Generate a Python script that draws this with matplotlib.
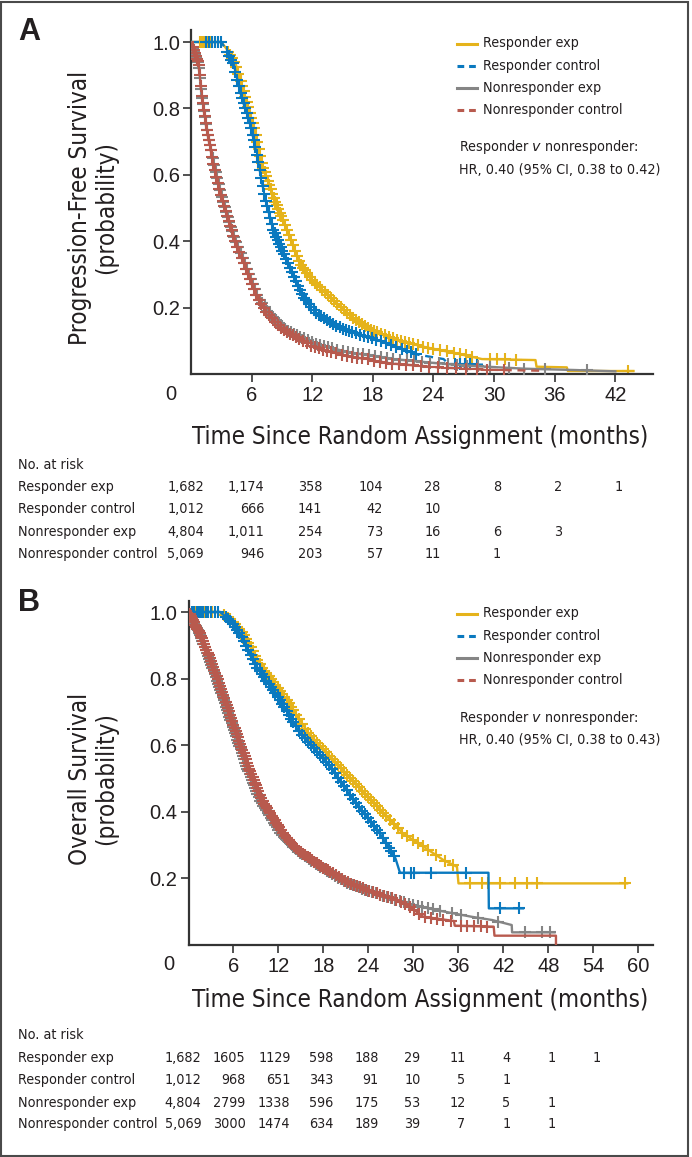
import matplotlib
matplotlib.use("Agg")
import matplotlib.pyplot as plt
from matplotlib import font_manager, transforms
from matplotlib.lines import Line2D
from matplotlib.patches import Rectangle
import numpy as np

# ---------------- data ----------------
labels = ["Responder exp", "Responder control", "Nonresponder exp", "Nonresponder control"]
colors = ["#E5B31B", "#0A79BF", "#858585", "#B85A4E"]

# Panel A: progression-free survival curves (months, probability)
pfs_resp_exp_t = [0, 3.0, 3.5, 4.4, 5.35, 6.3, 7.0, 8.15, 9.5, 10.8, 12.2, 13.8, 15.4, 17.7, 20.4, 23.0, 26.3, 28.8, 34.1, 34.2, 37.2, 37.3, 43.8]
pfs_resp_exp_s = [1.0, 1.0, 0.98, 0.936, 0.835, 0.735, 0.635, 0.534, 0.434, 0.333, 0.275, 0.233, 0.183, 0.133, 0.103, 0.082, 0.062, 0.045, 0.042, 0.022, 0.02, 0.009, 0.009]
pfs_resp_ctrl_t = [0, 3.0, 3.4, 4.2, 5.0, 6.0, 6.67, 7.3, 8.15, 9.6, 11.1, 12.4, 15.1, 18.7, 21.0, 22.5, 25.0, 25.5, 28.9]
pfs_resp_ctrl_s = [1.0, 1.0, 0.98, 0.936, 0.835, 0.735, 0.635, 0.534, 0.434, 0.333, 0.233, 0.183, 0.133, 0.10, 0.075, 0.058, 0.045, 0.03, 0.028]
pfs_non_exp_t = [0, 0.3, 0.75, 1.08, 1.6, 2.25, 3.05, 4.05, 5.3, 6.6, 7.7, 9.4, 12.4, 15.5, 20.0, 24.5, 28.0, 33.0, 38.0, 42.0]
pfs_non_exp_s = [1.0, 0.97, 0.936, 0.835, 0.735, 0.635, 0.534, 0.434, 0.333, 0.233, 0.183, 0.133, 0.09, 0.066, 0.045, 0.032, 0.024, 0.016, 0.012, 0.008]
pfs_non_ctrl_t = [0, 0.3, 0.73, 1.06, 1.55, 2.2, 3.0, 4.0, 5.2, 6.5, 7.5, 9.1, 12.1, 15.0, 19.7, 24.5, 29.0, 34.5]
pfs_non_ctrl_s = [1.0, 0.97, 0.936, 0.835, 0.735, 0.635, 0.534, 0.434, 0.333, 0.233, 0.183, 0.133, 0.082, 0.057, 0.032, 0.02, 0.013, 0.01]

# censor marks (months)
pfs_resp_exp_cens = [0.9, 1.1, 1.3, 1.5, 1.7, 2.0, 2.4, 3.7, 3.9, 4.1, 4.3, 4.5, 4.7, 4.9, 5.05, 5.2, 5.35, 5.5,
                     5.65, 5.8, 5.95, 6.1, 6.25, 6.4, 6.55, 6.7, 6.85, 7.0, 7.15, 7.3, 7.45, 7.6, 7.75, 7.9,
                     8.05, 8.2, 8.35, 8.5, 8.65, 8.8, 8.95, 9.1, 9.3, 9.5, 9.7, 9.9, 10.1, 10.3, 10.5, 10.7,
                     10.9, 11.1, 11.3, 11.5, 11.75, 12.0, 12.25, 12.5, 12.75, 13.0, 13.3, 13.6, 13.9, 14.2,
                     14.5, 14.8, 15.1, 15.4, 15.7, 16.0, 16.3, 16.6, 16.9, 17.2, 17.5, 17.8, 18.1, 18.4, 18.8,
                     19.2, 19.6, 20.0, 20.4, 20.8, 21.2, 21.6, 22.0, 22.5, 23.0, 23.5, 24.0, 24.6, 25.3, 26.0,
                     26.6, 27.2, 27.8, 29.6, 30.3, 31.1, 32.2, 43.3]
pfs_resp_ctrl_cens = [1.5, 1.8, 2.1, 2.4, 2.7, 3.0, 3.6, 3.8, 4.0, 4.2, 4.4, 4.6, 4.75, 4.9, 5.05, 5.2, 5.35, 5.5,
                      5.65, 5.8, 5.95, 6.1, 6.2, 6.35, 6.5, 6.65, 6.8, 6.95, 7.1, 7.25, 7.4, 7.55, 7.7, 7.85,
                      8.0, 8.15, 8.3, 8.45, 8.6, 8.75, 8.9, 9.05, 9.2, 9.4, 9.6, 9.8, 10.0, 10.2, 10.4, 10.6,
                      10.8, 11.0, 11.2, 11.4, 11.65, 11.9, 12.15, 12.4, 12.65, 12.9, 13.2, 13.5, 13.8, 14.1,
                      14.4, 14.7, 15.0, 15.3, 15.6, 15.9, 16.3, 16.7, 17.1, 17.5, 17.9, 18.3, 18.8, 19.3, 19.8,
                      20.3, 20.9, 21.4, 21.8, 22.3, 26.1, 26.6, 27.1, 27.6, 28.3]
pfs_non_exp_cens = [0.2, 0.3, 0.4, 0.5, 0.6, 0.7, 0.8, 0.9, 1.0, 1.1, 1.2, 1.3, 1.4, 1.5, 1.6, 1.7, 1.8, 1.9, 2.0,
                    2.15, 2.3, 2.45, 2.6, 2.75, 2.9, 3.05, 3.2, 3.35, 3.5, 3.65, 3.8, 3.95, 4.1, 4.3, 4.5, 4.7,
                    4.9, 5.1, 5.3, 5.5, 5.7, 5.9, 6.1, 6.3, 6.55, 6.8, 7.05, 7.3, 7.55, 7.8, 8.1, 8.4, 8.7, 9.0,
                    9.3, 9.6, 9.9, 10.2, 10.5, 10.8, 11.2, 11.6, 12.0, 12.4, 12.8, 13.2, 13.6, 14.0, 14.5, 15.0,
                    15.5, 16.0, 16.5, 17.0, 17.6, 18.2, 18.8, 19.4, 20.0, 20.7, 21.4, 22.1, 22.9, 23.7, 24.5,
                    25.4, 26.3, 27.3, 28.4, 29.6, 31.5, 33.0, 35.0, 39.2]
pfs_non_ctrl_cens = [0.15, 0.25, 0.35, 0.45, 0.55, 0.65, 0.75, 0.85, 0.95, 1.05, 1.15, 1.25, 1.35, 1.45, 1.55,
                     1.65, 1.75, 1.85, 1.95, 2.08, 2.22, 2.37, 2.52, 2.67, 2.82, 2.97, 3.12, 3.27, 3.42, 3.57,
                     3.72, 3.87, 4.02, 4.2, 4.4, 4.6, 4.8, 5.0, 5.2, 5.4, 5.6, 5.8, 6.0, 6.2, 6.45, 6.7, 6.95,
                     7.2, 7.45, 7.7, 8.0, 8.3, 8.6, 8.9, 9.2, 9.5, 9.8, 10.1, 10.4, 10.7, 11.1, 11.5, 11.9,
                     12.3, 12.7, 13.1, 13.5, 13.9, 14.4, 14.9, 15.4, 15.9, 16.4, 16.9, 17.5, 18.1, 18.7, 19.3,
                     19.9, 20.6, 21.3, 22.0, 22.8, 23.6, 24.4, 25.3, 26.2, 27.2, 28.3, 29.3, 31.0]

# Panel B: overall survival curves
os_resp_exp_t = [0, 4.2, 5.5, 7.3, 9.7, 13.1, 16.0, 20.2, 24.4, 28.6, 31.7, 34.0, 35.8, 36.0, 58.5]
os_resp_exp_s = [1.0, 1.0, 0.98, 0.936, 0.836, 0.736, 0.636, 0.535, 0.435, 0.335, 0.29, 0.255, 0.235, 0.185, 0.185]
os_resp_ctrl_t = [0, 4.2, 5.3, 6.87, 9.1, 12.2, 14.87, 18.9, 22.0, 25.5, 27.6, 28.2, 40.0, 40.05, 44.6]
os_resp_ctrl_s = [1.0, 1.0, 0.98, 0.936, 0.836, 0.736, 0.636, 0.535, 0.435, 0.335, 0.26, 0.217, 0.217, 0.11, 0.11]
os_non_exp_t = [0, 1.45, 3.15, 4.7, 6.2, 7.75, 9.55, 12.3, 14.4, 17.6, 21.3, 25.0, 27.8, 30.0, 33.0, 37.7, 40.5, 43.1, 43.15, 48.8]
os_non_exp_s = [1.0, 0.936, 0.836, 0.736, 0.636, 0.535, 0.435, 0.335, 0.285, 0.235, 0.185, 0.155, 0.135, 0.12, 0.105, 0.085, 0.075, 0.06, 0.038, 0.038]
os_non_ctrl_t = [0, 1.53, 3.3, 4.87, 6.4, 8.0, 9.8, 12.6, 14.6, 17.8, 21.5, 25.1, 27.8, 29.5, 31.3, 35.4, 35.5, 40.7, 40.8, 49.0, 49.0]
os_non_ctrl_s = [1.0, 0.936, 0.836, 0.736, 0.636, 0.535, 0.435, 0.335, 0.285, 0.235, 0.185, 0.155, 0.135, 0.115, 0.085, 0.072, 0.058, 0.055, 0.028, 0.028, 0.0]

os_resp_exp_cens = [0.6, 0.9, 1.3, 1.7, 2.2, 2.6, 3.1, 4.8, 5.3, 5.6, 5.9, 6.2, 6.5, 6.8, 7.1, 7.4, 7.7, 8.0,
                    8.3, 8.6, 8.9, 9.2, 9.5, 9.8, 10.1, 10.4, 10.7, 11.0, 11.3, 11.6, 11.9, 12.2, 12.5, 12.8,
                    13.1, 13.4, 13.7, 14.0, 14.4, 14.8, 15.2, 15.6, 16.0, 16.4, 16.8, 17.2, 17.6, 18.0, 18.4,
                    18.8, 19.2, 19.6, 20.0, 20.4, 20.8, 21.2, 21.6, 22.0, 22.4, 22.8, 23.2, 23.6, 24.0, 24.4,
                    24.8, 25.2, 25.6, 26.0, 26.4, 26.9, 27.4, 27.9, 28.5, 29.2, 29.9, 30.6, 31.3, 32.0, 33.0,
                    34.2, 35.3, 37.5, 39.1, 40.0, 41.6, 43.5, 45.1, 46.5, 58.2]
os_resp_ctrl_cens = [0.5, 0.8, 1.1, 1.4, 1.7, 2.0, 2.3, 2.6, 3.0, 3.5, 4.0, 5.0, 5.3, 5.6, 5.9, 6.2, 6.5, 6.8,
                     7.1, 7.4, 7.7, 8.0, 8.3, 8.6, 8.9, 9.2, 9.5, 9.8, 10.1, 10.4, 10.7, 11.0, 11.3, 11.6, 11.9,
                     12.2, 12.5, 12.8, 13.1, 13.4, 13.7, 14.0, 14.3, 14.7, 15.1, 15.5, 15.9, 16.3, 16.7, 17.1,
                     17.5, 17.9, 18.3, 18.7, 19.1, 19.5, 19.9, 20.3, 20.7, 21.1, 21.5, 21.9, 22.3, 22.7, 23.1,
                     23.5, 23.9, 24.3, 24.7, 25.1, 25.5, 25.9, 26.3, 26.7, 27.0, 27.4, 28.8, 29.7, 30.1, 32.4,
                     37.0, 41.6, 44.1]
os_non_exp_cens = [0.2, 0.35, 0.5, 0.65, 0.8, 0.95, 1.1, 1.25, 1.4, 1.55, 1.7, 1.85, 2.0, 2.15, 2.3, 2.45, 2.6,
                   2.75, 2.9, 3.05, 3.2, 3.35, 3.5, 3.65, 3.8, 3.95, 4.1, 4.25, 4.4, 4.55, 4.7, 4.85, 5.0, 5.15,
                   5.3, 5.45, 5.6, 5.75, 5.9, 6.05, 6.2, 6.35, 6.5, 6.65, 6.8, 6.95, 7.1, 7.25, 7.4, 7.55, 7.7,
                   7.85, 8.0, 8.15, 8.3, 8.45, 8.6, 8.75, 8.9, 9.05, 9.2, 9.4, 9.6, 9.8, 10.0, 10.2, 10.4, 10.6,
                   10.8, 11.0, 11.2, 11.4, 11.6, 11.8, 12.0, 12.25, 12.5, 12.75, 13.0, 13.25, 13.5, 13.75, 14.0,
                   14.3, 14.6, 14.9, 15.2, 15.5, 15.8, 16.1, 16.4, 16.7, 17.0, 17.3, 17.6, 17.9, 18.2, 18.5,
                   18.8, 19.2, 19.6, 20.0, 20.4, 20.8, 21.2, 21.6, 22.0, 22.4, 22.8, 23.2, 23.6, 24.0, 24.5,
                   25.0, 25.5, 26.0, 26.5, 27.0, 27.6, 28.2, 28.8, 29.4, 30.0, 30.6, 31.2, 31.9, 32.6, 33.5,
                   35.2, 36.3, 38.6, 41.3, 44.9, 47.2, 48.2]
os_non_ctrl_cens = [0.15, 0.3, 0.45, 0.6, 0.75, 0.9, 1.05, 1.2, 1.35, 1.5, 1.65, 1.8, 1.95, 2.1, 2.25, 2.4, 2.55,
                    2.7, 2.85, 3.0, 3.15, 3.3, 3.45, 3.6, 3.75, 3.9, 4.05, 4.2, 4.35, 4.5, 4.65, 4.8, 4.95, 5.1,
                    5.25, 5.4, 5.55, 5.7, 5.85, 6.0, 6.15, 6.3, 6.45, 6.6, 6.75, 6.9, 7.05, 7.2, 7.35, 7.5, 7.65,
                    7.8, 7.95, 8.1, 8.25, 8.4, 8.55, 8.7, 8.85, 9.0, 9.15, 9.3, 9.5, 9.7, 9.9, 10.1, 10.3, 10.5,
                    10.7, 10.9, 11.1, 11.3, 11.5, 11.7, 11.9, 12.1, 12.35, 12.6, 12.85, 13.1, 13.35, 13.6, 13.85,
                    14.1, 14.4, 14.7, 15.0, 15.3, 15.6, 15.9, 16.2, 16.5, 16.8, 17.1, 17.4, 17.7, 18.0, 18.3,
                    18.6, 18.9, 19.3, 19.7, 20.1, 20.5, 20.9, 21.3, 21.7, 22.1, 22.5, 22.9, 23.3, 23.7, 24.1,
                    24.6, 25.1, 25.6, 26.1, 26.6, 27.1, 27.7, 28.3, 28.9, 29.5, 30.1, 30.8, 31.5, 32.3, 33.1,
                    34.0, 35.0, 36.4, 37.2, 38.1, 39.0, 39.8]

# numbers at risk
pfs_risk_times = [0, 6, 12, 18, 24, 30, 36, 42]
pfs_risk_resp_exp = ["1,682", "1,174", "358", "104", "28", "8", "2", "1"]
pfs_risk_resp_ctrl = ["1,012", "666", "141", "42", "10", "", "", ""]
pfs_risk_non_exp = ["4,804", "1,011", "254", "73", "16", "6", "3", ""]
pfs_risk_non_ctrl = ["5,069", "946", "203", "57", "11", "1", "", ""]

os_risk_times = [0, 6, 12, 18, 24, 30, 36, 42, 48, 54]
os_risk_resp_exp = ["1,682", "1605", "1129", "598", "188", "29", "11", "4", "1", "1"]
os_risk_resp_ctrl = ["1,012", "968", "651", "343", "91", "10", "5", "1", "", ""]
os_risk_non_exp = ["4,804", "2799", "1338", "596", "175", "53", "12", "5", "1", ""]
os_risk_non_ctrl = ["5,069", "3000", "1474", "634", "189", "39", "7", "1", "1", ""]

# ---------------- fonts ----------------
def pick_narrow():
    names = {f.name for f in font_manager.fontManager.ttflist}
    if "Liberation Sans Narrow" in names:
        return {"family": "Liberation Sans Narrow"}
    for f in font_manager.fontManager.ttflist:
        if f.name.startswith("DejaVu Sans") and f.stretch == "condensed":
            return {"family": f.name, "stretch": "condensed"}
    return {"family": "Liberation Sans"}

NARROW = pick_narrow()
plt.rcParams["font.family"] = ["Liberation Sans", "DejaVu Sans"]
plt.rcParams["mathtext.fontset"] = "custom"
plt.rcParams["mathtext.it"] = NARROW["family"] + ":italic"
plt.rcParams["mathtext.rm"] = NARROW["family"]

TXT = "#231F20"
W, H = 692, 1157
fig = plt.figure(figsize=(W / 100, H / 100), dpi=100)
fig.patch.set_facecolor("white")


def fx(px):
    return px / W


def fy(py):
    return 1 - py / H


# scale narrow fonts to the widths in the original
renderer = fig.canvas.get_renderer()
probe = fig.text(0, 0, "Nonresponder control", fontsize=10, **NARROW)
pw = probe.get_window_extent(renderer).width
probe.remove()
TABLE_FS = 10 * 139 / pw
LABEL_FS = TABLE_FS * 1.69


def km_panel(x0, x_right, y_one, y_zero, y_top, xmax, xticks, curves, cens, dashed_ctrl, ylab, tag):
    ax = fig.add_axes([fx(x0), fy(y_zero), fx(x_right) - fx(x0), fy(y_top) - fy(y_zero)])
    ytop = 1 + (y_one - y_top) / (y_zero - y_one)
    ax.set_xlim(0, xmax)
    ax.set_ylim(0, ytop)
    for i, ((t, s), ct) in enumerate(zip(curves, cens)):
        ls = "-"
        if dashed_ctrl and i in (1, 3):
            ls = (0, (3.4, 2.4))
        ax.plot(t, s, color=colors[i], lw=1.7, ls=ls, zorder=2 + i)
        cs = np.interp(ct, t, s)
        ax.plot(ct, cs, ls="none", marker="+", ms=8, mew=1.5, color=colors[i], zorder=2 + i)

    for side in ("top", "right"):
        ax.spines[side].set_visible(False)
    for side in ("left", "bottom"):
        ax.spines[side].set_linewidth(1.6)
        ax.spines[side].set_color("#333333")
    ax.set_yticks([0.2, 0.4, 0.6, 0.8, 1.0])
    ax.set_yticklabels(["0.2", "0.4", "0.6", "0.8", "1.0"])
    ax.set_xticks(xticks)
    ax.set_xticklabels([str(v) for v in xticks])
    ax.tick_params(direction="out", length=5.5, width=1.2, colors="#333333",
                   labelcolor=TXT, labelsize=14.5)
    ax.tick_params(axis="x", pad=3)
    ax.tick_params(axis="y", pad=2.5)
    # the "0" sits left of the origin, on the tick-label row
    fig.text(fx(x0 - 20), fy(y_zero + 20), "0", ha="center", va="center", fontsize=14.5, color=TXT)

    # y label
    fig.text(fx(93), fy((y_one + y_zero) / 2), ylab, rotation=90, ha="center", va="center",
             multialignment="center", fontsize=LABEL_FS, color=TXT, linespacing=1.1, **NARROW)
    fig.text(fx(29), fy(y_top + 2), tag, fontsize=22, fontweight="bold", color=TXT, ha="center", va="center")

    # legend
    for i, lab in enumerate(labels):
        yy = fy(y_one + 1.5 + 22.2 * i)
        ls = "-" if i % 2 == 0 else (0, (2.2, 1.6))
        fig.add_artist(Line2D([fx(457), fx(477)], [yy, yy], color=colors[i], lw=2.2, ls=ls))
        fig.text(fx(483), yy, lab, fontsize=TABLE_FS, color=TXT, va="center", **NARROW)
    return ax


def risk_table(ax, times, rows, y_title, y_nar, y_rows):
    fig.text(fx(420), fy(y_title), "Time Since Random Assignment (months)", ha="center", va="center",
             fontsize=LABEL_FS, color=TXT, **NARROW)
    fig.text(fx(17.5), fy(y_nar), "No. at risk", va="center", fontsize=TABLE_FS, color=TXT, **NARROW)
    blend = transforms.blended_transform_factory(ax.transData, fig.transFigure)
    offs = {5: 13, 4: 12, 3: 10, 2: 7, 1: 7}
    for j, tm in enumerate(times):
        maxlen = max(len(r[j]) for r in rows)
        tr = transforms.offset_copy(blend, fig=fig, x=offs[maxlen], y=0, units="dots")
        for r, yy in zip(rows, y_rows):
            if r[j]:
                fig.text(tm, fy(yy), r[j], transform=tr, ha="right", va="center",
                         fontsize=TABLE_FS, color=TXT, **NARROW)
    for lab, yy in zip(labels, y_rows):
        fig.text(fx(17.5), fy(yy), lab, va="center", fontsize=TABLE_FS, color=TXT, **NARROW)


axA = km_panel(191, 652.7, 42, 374, 30, 45.7, [6, 12, 18, 24, 30, 36, 42],
               [(pfs_resp_exp_t, pfs_resp_exp_s), (pfs_resp_ctrl_t, pfs_resp_ctrl_s),
                (pfs_non_exp_t, pfs_non_exp_s), (pfs_non_ctrl_t, pfs_non_ctrl_s)],
               [pfs_resp_exp_cens, pfs_resp_ctrl_cens, pfs_non_exp_cens, pfs_non_ctrl_cens],
               True, "Progression-Free Survival\n(probability)", "A")
fig.text(fx(459), fy(147), r"Responder $\mathit{v}$ nonresponder:", fontsize=TABLE_FS, color=TXT, va="center", **NARROW)
fig.text(fx(459), fy(170), "HR, 0.40 (95% CI, 0.38 to 0.42)", fontsize=TABLE_FS, color=TXT, va="center", **NARROW)
risk_table(axA, pfs_risk_times,
           [pfs_risk_resp_exp, pfs_risk_resp_ctrl, pfs_risk_non_exp, pfs_risk_non_ctrl],
           437, 465, [487, 509, 532, 554])

axB = km_panel(188.5, 652.7, 612, 945, 601, 61.9, [6, 12, 18, 24, 30, 36, 42, 48, 54, 60],
               [(os_resp_exp_t, os_resp_exp_s), (os_resp_ctrl_t, os_resp_ctrl_s),
                (os_non_exp_t, os_non_exp_s), (os_non_ctrl_t, os_non_ctrl_s)],
               [os_resp_exp_cens, os_resp_ctrl_cens, os_non_exp_cens, os_non_ctrl_cens],
               False, "Overall Survival\n(probability)", "B")
fig.text(fx(459), fy(718), r"Responder $\mathit{v}$ nonresponder:", fontsize=TABLE_FS, color=TXT, va="center", **NARROW)
fig.text(fx(459), fy(740), "HR, 0.40 (95% CI, 0.38 to 0.43)", fontsize=TABLE_FS, color=TXT, va="center", **NARROW)
risk_table(axB, os_risk_times,
           [os_risk_resp_exp, os_risk_resp_ctrl, os_risk_non_exp, os_risk_non_ctrl],
           1000, 1035, [1058, 1080, 1103, 1124])

# frame around the whole figure
fig.add_artist(Rectangle((fx(1.5), fy(1155.5)), fx(688) - fx(1.5), fy(1.5) - fy(1155.5),
                         fill=False, lw=1.5, edgecolor="#4a4a4a", transform=fig.transFigure))

fig.savefig("out.png", dpi=100)
